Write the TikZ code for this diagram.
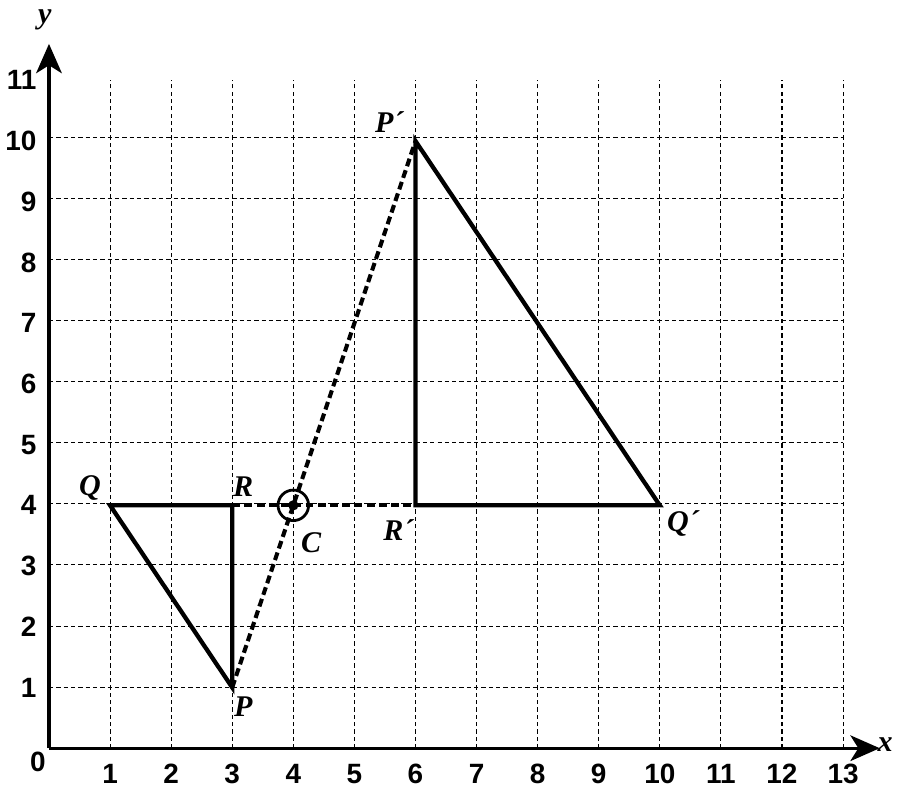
\documentclass[tikz,border=0pt]{standalone}
\usepackage{fontspec}
\setmainfont{Liberation Serif}
\newfontfamily\numfont{Liberation Sans}
\usetikzlibrary{arrows.meta}
\begin{document}
\begin{tikzpicture}[x=1cm,y=0.994cm,
  gridline/.style={dash pattern=on 0.07cm off 0.05cm, line width=0.5pt},
  axisline/.style={line width=1.5pt, -{Stealth[length=0.48cm,width=0.42cm,inset=0.13cm]}},
  figline/.style={line width=2pt, line join=miter},
  dashfig/.style={line width=1.9pt, dash pattern=on 0.13cm off 0.07cm},
  num/.style={font=\numfont\bfseries\fontsize{13}{13}\selectfont, inner sep=0pt},
  lab/.style={font=\bfseries\itshape\fontsize{14}{14}\selectfont, inner sep=0pt}]
\useasboundingbox (-0.802,-0.626) rectangle (13.916,12.323);
% grid
\draw[gridline] (0,0) grid (13,11);
% axes
\coordinate (O) at (0,0);
\coordinate (xend) at (13.6,0);
\coordinate (yend) at (0,11.6);
\draw[axisline] (O) -- (xend);
\draw[axisline] (O) -- (yend);
\node[lab] (xl) at (13.69,0.06) {x};
\node[lab] (yl) at (-0.07,12.0) {y};
\node[num] (zero) at (-0.18,-0.23) {0};
% tick labels
\foreach \i in {1,...,13} \node[num] (xt\i) at (\i,-0.42) {\i};
\foreach \i in {1,...,11} \node[num, anchor=east] (yt\i) at (-0.2,\i) {\i};
% points
\coordinate (Q) at (1,4);
\coordinate (R) at (3,4);
\coordinate (P) at (3,1);
\coordinate (C) at (4,4);
\coordinate (Pp) at (6,10);
\coordinate (Rp) at (6,4);
\coordinate (Qp) at (10,4);
% dashed construction lines
\draw[dashfig] (P) -- (Pp);
\draw[dashfig] (R) -- (Rp);
% triangles
\draw[figline] (Q) -- (R) -- (P) -- cycle;
\draw[figline] (Pp) -- (Rp) -- (Qp) -- cycle;
% centre
\node[circle, draw, line width=1.3pt, minimum size=0.5cm, inner sep=0pt] (Cc) at (C) {};
\fill (C) circle (2.4pt);
% labels
\node[lab] (lQ) at (0.67,4.28) {Q};
\node[lab] (lR) at (3.18,4.3) {R};
\node[lab] (lC) at (4.29,3.38) {C};
\node[lab] (lRp) at (5.72,3.59) {R´};
\node[lab] (lQp) at (10.38,3.7) {Q´};
\node[lab] (lP) at (3.18,0.69) {P};
\node[lab] (lPp) at (5.57,10.31) {P´};
\end{tikzpicture}
\end{document}
